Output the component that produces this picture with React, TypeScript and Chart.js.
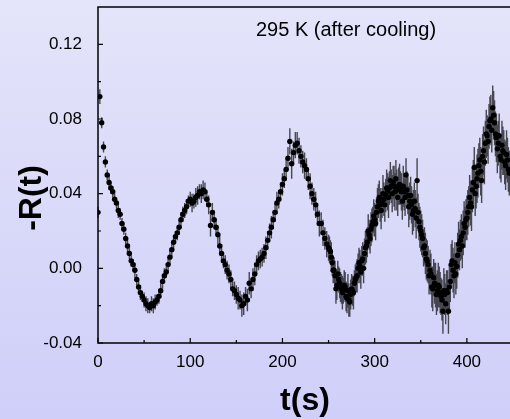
import React, { useEffect, useRef } from "react";
import { Chart, registerables } from "chart.js";

Chart.register(...registerables);

// time (s), even-second readings
const times = [
  0, 2, 4, 6, 8, 10, 12, 14, 16, 18,
  20, 22, 24, 26, 28, 30, 32, 34, 36, 38,
  40, 42, 44, 46, 48, 50, 52, 54, 56, 58,
  60, 62, 64, 66, 68, 70, 72, 74, 76, 78,
  80, 82, 84, 86, 88, 90, 92, 94, 96, 98,
  100, 102, 104, 106, 108, 110, 112, 114, 116, 118,
  120, 122, 124, 126, 128, 130, 132, 134, 136, 138,
  140, 142, 144, 146, 148, 150, 152, 154, 156, 158,
  160, 162, 164, 166, 168, 170, 172, 174, 176, 178,
  180, 182, 184, 186, 188, 190, 192, 194, 196, 198,
  200, 202, 204, 206, 208, 210, 212, 214, 216, 218,
  220, 222, 224, 226, 228, 230, 232, 234, 236, 238,
  240, 242, 244, 246, 248, 250, 252, 254, 256, 258,
  260, 262, 264, 266, 268, 270, 272, 274, 276, 278,
  280, 282, 284, 286, 288, 290, 292, 294, 296, 298,
  300, 302, 304, 306, 308, 310, 312, 314, 316, 318,
  320, 322, 324, 326, 328, 330, 332, 334, 336, 338,
  340, 342, 344, 346, 348, 350, 352, 354, 356, 358,
  360, 362, 364, 366, 368, 370, 372, 374, 376, 378,
  380, 382, 384, 386, 388, 390, 392, 394, 396, 398,
  400, 402, 404, 406, 408, 410, 412, 414, 416, 418,
  420, 422, 424, 426, 428, 430, 432, 434, 436, 438,
  440, 442, 444, 446,
];

// -R(t)
const values = [
  0.030, 0.092, 0.078, 0.065, 0.057, 0.050, 0.046, 0.043, 0.041, 0.037,
  0.035, 0.031, 0.029, 0.024, 0.021, 0.016, 0.012, 0.008, 0.004, 0.002,
  -0.001, -0.006, -0.010, -0.013, -0.015, -0.017, -0.019, -0.020, -0.021, -0.019,
  -0.020, -0.018, -0.017, -0.015, -0.012, -0.007, -0.004, -0.002, 0.002, 0.006,
  0.010, 0.014, 0.017, 0.019, 0.022, 0.026, 0.029, 0.031, 0.033, 0.036,
  0.037, 0.035, 0.036, 0.038, 0.039, 0.041, 0.040, 0.042, 0.041, 0.037,
  0.034, 0.023, 0.030, 0.026, 0.022, 0.018, 0.012, 0.008, 0.004, 0.002,
  -0.001, -0.003, -0.006, -0.011, -0.012, -0.014, -0.016, -0.017, -0.020, -0.019,
  -0.015, -0.017, -0.008, -0.011, -0.006, -0.003, 0.002, 0.004, 0.005, 0.006,
  0.008, 0.011, 0.015, 0.019, 0.022, 0.026, 0.030, 0.035, 0.037, 0.041,
  0.045, 0.048, 0.053, 0.059, 0.068, 0.056, 0.062, 0.066, 0.067, 0.063,
  0.060, 0.057, 0.055, 0.053, 0.048, 0.044, 0.040, 0.037, 0.034, 0.029,
  0.024, 0.024, 0.019, 0.016, 0.013, 0.011, 0.009, 0.003, -0.001, -0.011,
  -0.003, -0.008, -0.011, -0.012, -0.010, -0.016, -0.017, -0.014, -0.012, -0.008,
  -0.005, 0.000, 0.001, 0.004, 0.000, 0.011, 0.014, 0.018, 0.021, 0.025,
  0.026, 0.030, 0.036, 0.034, 0.035, 0.037, 0.039, 0.041, 0.043, 0.044,
  0.046, 0.041, 0.042, 0.044, 0.043, 0.036, 0.041, 0.050, 0.039, 0.036,
  0.034, 0.031, 0.032, 0.047, 0.025, 0.020, 0.016, 0.012, 0.005, 0.002,
  -0.001, -0.010, -0.005, -0.009, -0.012, -0.010, -0.015, -0.023, -0.014, -0.012,
  -0.023, -0.007, 0.004, -0.004, -0.003, 0.007, 0.010, 0.017, 0.019, 0.022,
  0.027, 0.033, 0.035, 0.042, 0.054, 0.044, 0.051, 0.058, 0.047, 0.063,
  0.067, 0.071, 0.076, 0.080, 0.086, 0.078, 0.070, 0.067, 0.060, 0.066,
  0.062, 0.055, 0.058, 0.051,
];

// half-length of error bars
const errors = [
  0.003, 0.004, 0.003, 0.003, 0.003, 0.003, 0.004, 0.003, 0.003, 0.003,
  0.003, 0.004, 0.003, 0.003, 0.003, 0.003, 0.004, 0.003, 0.003, 0.003,
  0.004, 0.003, 0.004, 0.004, 0.003, 0.004, 0.004, 0.004, 0.003, 0.004,
  0.004, 0.004, 0.003, 0.004, 0.004, 0.004, 0.004, 0.003, 0.004, 0.004,
  0.004, 0.004, 0.003, 0.004, 0.004, 0.004, 0.004, 0.004, 0.004, 0.003,
  0.004, 0.005, 0.004, 0.005, 0.005, 0.004, 0.005, 0.005, 0.005, 0.004,
  0.005, 0.006, 0.005, 0.005, 0.004, 0.005, 0.005, 0.005, 0.004, 0.005,
  0.005, 0.005, 0.005, 0.004, 0.005, 0.005, 0.006, 0.005, 0.006, 0.006,
  0.005, 0.006, 0.006, 0.005, 0.006, 0.006, 0.005, 0.005, 0.005, 0.005,
  0.005, 0.006, 0.005, 0.005, 0.006, 0.005, 0.005, 0.006, 0.005, 0.005,
  0.006, 0.005, 0.006, 0.006, 0.007, 0.008, 0.006, 0.007, 0.006, 0.007,
  0.006, 0.006, 0.007, 0.006, 0.006, 0.007, 0.006, 0.006, 0.007, 0.006,
  0.007, 0.006, 0.007, 0.006, 0.007, 0.007, 0.006, 0.007, 0.007, 0.008,
  0.007, 0.008, 0.008, 0.007, 0.008, 0.008, 0.009, 0.008, 0.008, 0.007,
  0.008, 0.008, 0.009, 0.008, 0.008, 0.009, 0.008, 0.008, 0.009, 0.008,
  0.009, 0.008, 0.009, 0.009, 0.008, 0.009, 0.009, 0.010, 0.009, 0.009,
  0.009, 0.010, 0.011, 0.010, 0.009, 0.010, 0.010, 0.009, 0.010, 0.010,
  0.010, 0.011, 0.010, 0.012, 0.010, 0.011, 0.010, 0.010, 0.011, 0.010,
  0.011, 0.011, 0.010, 0.012, 0.011, 0.011, 0.010, 0.012, 0.011, 0.011,
  0.012, 0.011, 0.011, 0.012, 0.011, 0.012, 0.011, 0.012, 0.012, 0.011,
  0.012, 0.011, 0.012, 0.012, 0.011, 0.012, 0.013, 0.012, 0.012, 0.013,
  0.012, 0.011, 0.012, 0.013, 0.012, 0.012, 0.013, 0.012, 0.012, 0.013,
  0.012, 0.013, 0.012, 0.012,
];

// odd-second readings in the later, noisier part
const timesOdd = [
  251, 253, 255, 257, 259, 261, 263, 265, 267, 269,
  271, 273, 275, 277, 279, 281, 283, 285, 287, 289,
  291, 293, 295, 297, 299, 301, 303, 305, 307, 309,
  311, 313, 315, 317, 319, 321, 323, 325, 327, 329,
  331, 333, 335, 337, 339, 341, 343, 345, 347, 349,
  351, 353, 355, 357, 359, 361, 363, 365, 367, 369,
  371, 373, 375, 377, 379, 381, 383, 385, 387, 389,
  391, 393, 395, 397, 399, 401, 403, 405, 407, 409,
  411, 413, 415, 417, 419, 421, 423, 425, 427, 429,
  431, 433, 435, 437, 439, 441, 443, 445,
];

const valuesOdd = [
  0.010, 0.006, -0.001, -0.004, -0.009, -0.006, -0.010, -0.013, -0.009, -0.015,
  -0.012, -0.018, -0.011, -0.013, -0.006, -0.004, 0.003, -0.002, 0.005, 0.008,
  0.012, 0.020, 0.016, 0.023, 0.028, 0.024, 0.033, 0.038, 0.031, 0.040,
  0.034, 0.043, 0.038, 0.047, 0.040, 0.044, 0.048, 0.038, 0.045, 0.041,
  0.044, 0.038, 0.042, 0.033, 0.039, 0.029, 0.036, 0.027, 0.030, 0.022,
  0.018, 0.011, 0.008, 0.004, -0.004, -0.003, -0.011, -0.008, -0.014, -0.009,
  -0.013, -0.017, -0.012, -0.019, -0.013, -0.010, 0.002, -0.001, 0.003, 0.001,
  0.013, 0.015, 0.012, 0.024, 0.026, 0.030, 0.038, 0.033, 0.046, 0.040,
  0.048, 0.055, 0.052, 0.060, 0.057, 0.072, 0.068, 0.079, 0.074, 0.082,
  0.072, 0.064, 0.071, 0.058, 0.063, 0.057, 0.061, 0.053,
];

const errorsOdd = [
  0.007, 0.008, 0.007, 0.008, 0.008, 0.007, 0.008, 0.009, 0.008, 0.008,
  0.009, 0.008, 0.008, 0.009, 0.008, 0.009, 0.008, 0.009, 0.009, 0.008,
  0.009, 0.009, 0.008, 0.009, 0.009, 0.009, 0.010, 0.009, 0.010, 0.010,
  0.009, 0.010, 0.011, 0.010, 0.010, 0.011, 0.010, 0.010, 0.011, 0.010,
  0.011, 0.010, 0.010, 0.011, 0.010, 0.011, 0.010, 0.011, 0.010, 0.011,
  0.011, 0.010, 0.011, 0.011, 0.010, 0.011, 0.012, 0.011, 0.011, 0.012,
  0.011, 0.011, 0.012, 0.011, 0.012, 0.012, 0.011, 0.012, 0.011, 0.012,
  0.012, 0.011, 0.012, 0.012, 0.011, 0.012, 0.012, 0.013, 0.012, 0.012,
  0.013, 0.012, 0.013, 0.012, 0.012, 0.013, 0.012, 0.013, 0.012, 0.013,
  0.012, 0.013, 0.012, 0.012, 0.013, 0.012, 0.013, 0.012,
];

const yMajorTicks = [-0.04, 0, 0.04, 0.08, 0.12];
const yMinorTicks = [-0.02, 0.02, 0.06, 0.1];
const xMajorTicks = [0, 100, 200, 300, 400];
const xMinorTicks = [50, 150, 250, 350];

const plotTitle = "295 K (after cooling)";
const xAxisTitle = "t(s)";
const yAxisTitle = "-R(t)";

const FONT = "'Liberation Sans', Arial, Helvetica, sans-serif";

const series = [
  { t: times, v: values, e: errors },
  { t: timesOdd, v: valuesOdd, e: errorsOdd },
];

export default function App() {
  const ref = useRef<HTMLCanvasElement | null>(null);

  useEffect(() => {
    if (!ref.current) return;

    const decor = {
      id: "decor",
      beforeDatasetsDraw(chart: any) {
        const { ctx, scales } = chart;
        const x = scales.x;
        const y = scales.y;
        ctx.save();
        ctx.strokeStyle = "rgba(45,45,50,0.85)";
        ctx.lineWidth = 1.4;
        ctx.beginPath();
        series.forEach((s) => {
          for (let i = 0; i < s.t.length; i++) {
            const px = x.getPixelForValue(s.t[i]);
            ctx.moveTo(px, y.getPixelForValue(s.v[i] - s.e[i]));
            ctx.lineTo(px, y.getPixelForValue(s.v[i] + s.e[i]));
          }
        });
        ctx.stroke();
        ctx.restore();
      },
      afterDraw(chart: any) {
        const { ctx, chartArea, scales } = chart;
        const x = scales.x;
        const y = scales.y;
        const { left, right, top, bottom } = chartArea;
        ctx.save();
        ctx.strokeStyle = "#000";
        ctx.lineWidth = 1.5;
        ctx.strokeRect(left, top, right - left, bottom - top);
        ctx.lineWidth = 1.2;
        ctx.beginPath();
        yMajorTicks.forEach((v) => {
          const py = y.getPixelForValue(v);
          ctx.moveTo(left, py);
          ctx.lineTo(left + 5, py);
        });
        yMinorTicks.forEach((v) => {
          const py = y.getPixelForValue(v);
          ctx.moveTo(left, py);
          ctx.lineTo(left + 3, py);
        });
        xMajorTicks.forEach((v) => {
          const px = x.getPixelForValue(v);
          ctx.moveTo(px, bottom);
          ctx.lineTo(px, bottom - 5);
        });
        xMinorTicks.forEach((v) => {
          const px = x.getPixelForValue(v);
          ctx.moveTo(px, bottom);
          ctx.lineTo(px, bottom - 3);
        });
        ctx.stroke();

        ctx.fillStyle = "#000";
        ctx.textAlign = "center";
        ctx.textBaseline = "middle";
        ctx.font = `20px ${FONT}`;
        ctx.fillText(plotTitle, 346, 30);

        ctx.font = `bold 32px ${FONT}`;
        ctx.fillText(xAxisTitle, 305, 401);

        ctx.save();
        ctx.translate(32, 198);
        ctx.rotate(-Math.PI / 2);
        ctx.fillText(yAxisTitle, 0, 0);
        ctx.restore();
        ctx.restore();
      },
    };

    const pointStyle = {
      backgroundColor: "#000",
      borderColor: "#000",
      borderWidth: 0,
      pointRadius: 2.7,
      pointHoverRadius: 2.7,
    };

    const chart = new Chart(ref.current, {
      type: "scatter",
      data: {
        datasets: series.map((s) => ({
          data: s.t.map((t, i) => ({ x: t, y: s.v[i] })),
          ...pointStyle,
        })),
      },
      options: {
        responsive: false,
        animation: false,
        events: [],
        layout: { padding: { top: 7, left: 0, right: 17, bottom: 0 } },
        plugins: {
          legend: { display: false },
          tooltip: { enabled: false },
          title: { display: false },
        },
        scales: {
          x: {
            type: "linear",
            position: "bottom",
            min: 0,
            max: 450,
            grid: { display: false },
            border: { display: false },
            ticks: {
              stepSize: 100,
              includeBounds: false,
              padding: 1,
              color: "#000",
              font: { family: FONT, size: 17 },
              maxRotation: 0,
              callback: (v: any) => String(v),
            },
            afterFit: (s: any) => {
              s.height = 76;
              s.paddingLeft = 0;
              s.paddingRight = 0;
            },
          },
          y: {
            type: "linear",
            min: -0.04,
            max: 0.14,
            grid: { display: false },
            border: { display: false },
            ticks: {
              stepSize: 0.04,
              includeBounds: false,
              padding: 8,
              color: "#000",
              font: { family: FONT, size: 17 },
              callback: (v: any) => Number(v).toFixed(2),
            },
            afterFit: (s: any) => {
              s.width = 98;
              s.paddingTop = 0;
              s.paddingBottom = 0;
            },
          },
        },
      },
      plugins: [decor],
    });

    return () => chart.destroy();
  }, []);

  return (
    <div
      style={{
        position: "fixed",
        left: 0,
        top: 0,
        width: 510,
        height: 419,
        overflow: "hidden",
        background: "linear-gradient(to bottom, #E4E4FA 0%, #CFCFF9 100%)",
      }}
    >
      <canvas
        ref={ref}
        width={530}
        height={419}
        style={{ display: "block", width: 530, height: 419 }}
      />
    </div>
  );
}
